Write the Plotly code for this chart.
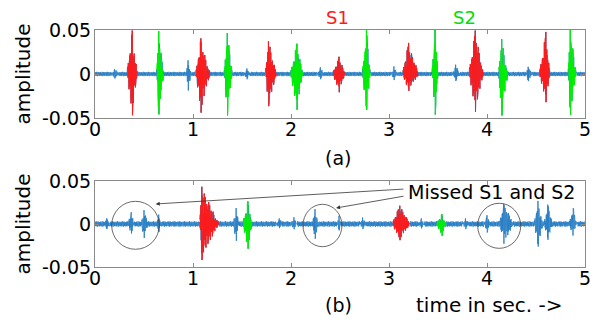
import numpy as np
import plotly.graph_objects as go
from plotly.subplots import make_subplots

# ---------------- data ----------------
# burst events: start / peak / end time (s), positive and negative peak amplitude, kind
TOP_START = [0.17, 0.33, 0.63, 0.93, 1.03, 1.32, 1.52, 1.74, 2.00, 2.27, 2.43, 2.73, 3.02, 3.14, 3.44, 3.65, 3.82, 4.12, 4.40, 4.54, 4.83]
TOP_PEAK  = [0.20, 0.38, 0.65, 0.95, 1.08, 1.35, 1.55, 1.77, 2.06, 2.30, 2.49, 2.77, 3.05, 3.20, 3.47, 3.68, 3.88, 4.15, 4.42, 4.60, 4.85]
TOP_END   = [0.24, 0.43, 0.70, 0.98, 1.17, 1.40, 1.58, 1.85, 2.12, 2.33, 2.55, 2.81, 3.08, 3.30, 3.50, 3.72, 3.96, 4.21, 4.46, 4.64, 4.91]
TOP_POS   = [0.006, 0.050, 0.048, 0.015, 0.040, 0.047, 0.007, 0.038, 0.035, 0.008, 0.020, 0.050, 0.008, 0.035, 0.050, 0.010, 0.050, 0.040, 0.008, 0.048, 0.050]
TOP_NEG   = [0.006, 0.050, 0.048, 0.020, 0.045, 0.050, 0.007, 0.038, 0.043, 0.007, 0.022, 0.043, 0.007, 0.020, 0.050, 0.008, 0.045, 0.050, 0.008, 0.035, 0.048]
TOP_KIND  = ["N", "S1", "S2", "N", "S1", "S2", "N", "S1", "S2", "N", "S1", "S2", "N", "S1", "S2", "N", "S1", "S2", "N", "S1", "S2"]

BOT_START = [0.10, 0.34, 0.47, 0.63, 1.07, 1.41, 1.51, 1.85, 2.00, 2.22, 2.47, 2.70, 3.04, 3.30, 3.49, 3.75, 3.97, 4.13, 4.48, 4.58, 4.84]
BOT_PEAK  = [0.12, 0.37, 0.50, 0.65, 1.09, 1.44, 1.56, 1.88, 2.03, 2.245, 2.49, 2.73, 3.11, 3.33, 3.54, 3.78, 4.00, 4.17, 4.52, 4.62, 4.88]
BOT_END   = [0.15, 0.40, 0.54, 0.67, 1.26, 1.47, 1.60, 1.91, 2.06, 2.28, 2.51, 2.76, 3.21, 3.36, 3.58, 3.81, 4.03, 4.27, 4.57, 4.67, 4.92]
BOT_POS   = [0.006, 0.014, 0.017, 0.010, 0.043, 0.019, 0.027, 0.007, 0.007, 0.017, 0.010, 0.007, 0.022, 0.007, 0.012, 0.006, 0.010, 0.024, 0.026, 0.022, 0.018]
BOT_NEG   = [0.006, 0.013, 0.018, 0.010, 0.042, 0.022, 0.031, 0.006, 0.006, 0.018, 0.009, 0.006, 0.020, 0.006, 0.015, 0.006, 0.010, 0.024, 0.027, 0.019, 0.015]
BOT_KIND  = ["N", "N", "N", "N", "S1", "N", "S2", "N", "N", "N", "N", "N", "S1", "N", "S2", "N", "N", "N", "N", "N", "N"]

# hand-read texture of the trace (relative sizes of successive swings)
JITTER = [1.0, 0.55, 0.85, 0.35, 0.95, 0.7, 0.45, 0.9, 0.6, 0.3, 0.8, 0.5, 0.75, 0.4, 0.65, 0.9, 0.35, 0.7]
NOISE = [0.0020, -0.0015, 0.0030, -0.0025, 0.0010, -0.0030, 0.0025, -0.0010, 0.0035, -0.0020,
         0.0015, -0.0035, 0.0020, -0.0010, 0.0030, -0.0025, 0.0010, -0.0020, 0.0025, -0.0030, 0.0015]

X_TICKS = [0, 1, 2, 3, 4, 5]
Y_TICKS = [-0.05, 0, 0.05]
Y_TICK_TEXT = ["-0.05", "0", "0.05"]

DT = 0.0025
t = np.arange(0, 5 + DT / 2, DT)


def build(starts, peaks, ends, pos, neg, kinds, noise_scale):
    base = np.array([NOISE[i % len(NOISE)] for i in range(len(t))]) * noise_scale
    sig = base.copy()
    colored = {"S1": np.full(len(t), np.nan), "S2": np.full(len(t), np.nan)}
    for s, p, e, ap, an, k in zip(starts, peaks, ends, pos, neg, kinds):
        idx = np.where((t >= s) & (t <= e))[0]
        env = np.interp(t[idx], [s, p, e], [0.15, 1.0, 0.1]) ** 1.2
        jit = np.array([JITTER[i % len(JITTER)] for i in range(len(idx))])
        pk = int(np.argmin(np.abs(t[idx] - p)))
        jit[pk] = 1.0
        if pk + 1 < len(jit):
            jit[pk + 1] = 1.0
        sign = np.array([1 if (i - pk) % 2 == 0 else -1 for i in range(len(idx))])
        burst = env * jit * sign
        burst = np.where(burst > 0, burst * ap, burst * an)
        sig[idx] = burst + base[idx] * 0.3
        if k in colored:
            colored[k][idx] = sig[idx]
    return sig, colored


top_sig, top_col = build(TOP_START, TOP_PEAK, TOP_END, TOP_POS, TOP_NEG, TOP_KIND, 0.7)
bot_sig, bot_col = build(BOT_START, BOT_PEAK, BOT_END, BOT_POS, BOT_NEG, BOT_KIND, 0.9)

BLUE = "#2a7fc4"
RED = "#ff1a1a"
GREEN = "#00f000"
FONT = "DejaVu Sans"

fig = make_subplots(rows=2, cols=1)
for row, sig, col in [(1, top_sig, top_col), (2, bot_sig, bot_col)]:
    fig.add_trace(go.Scatter(x=t, y=sig, mode="lines", line=dict(color=BLUE, width=0.9),
                             hoverinfo="skip", showlegend=False), row=row, col=1)
    fig.add_trace(go.Scatter(x=t, y=col["S1"], mode="lines", line=dict(color=RED, width=0.9),
                             hoverinfo="skip", showlegend=False), row=row, col=1)
    fig.add_trace(go.Scatter(x=t, y=col["S2"], mode="lines", line=dict(color=GREEN, width=0.9),
                             hoverinfo="skip", showlegend=False), row=row, col=1)

# page has an 8px body margin: size the figure so that it fits the 600x324 window
W, H = 592, 316
ml, mr, mt, mb = 87, 15, 22, 57
ph = H - mt - mb
PB = 267  # page y of the paper bottom


def py(y_page):
    return (PB - y_page) / ph


axis_common = dict(showline=True, mirror="ticks", linecolor="#8a8a8a", linewidth=1,
                   ticks="inside", ticklen=4, tickcolor="#8a8a8a", showgrid=False, zeroline=False,
                   automargin=False,
                   tickfont=dict(family=FONT, size=19, color="black"))
fig.update_xaxes(range=[0, 5], tickvals=X_TICKS, ticktext=[str(v) for v in X_TICKS],
                 ticklabelstandoff=-6, **axis_common)
fig.update_yaxes(range=[-0.05, 0.05], tickvals=Y_TICKS, ticktext=Y_TICK_TEXT,
                 ticklabelstandoff=-1,
                 title=dict(text="amplitude", font=dict(family=FONT, size=20, color="black"), standoff=6),
                 **axis_common)
fig.update_layout(
    width=W, height=H,
    margin=dict(l=ml, r=mr, t=mt, b=mb),
    paper_bgcolor="white", plot_bgcolor="white",
    yaxis=dict(domain=[py(118), 1.0]),
    yaxis2=dict(domain=[0.0, py(181)]),
    xaxis=dict(anchor="y"), xaxis2=dict(anchor="y2"),
    font=dict(family=FONT),
)


def label(text, x, y_page, size, color="black"):
    return dict(text=text, x=x, y=py(y_page), xref="x", yref="paper", showarrow=False,
                xanchor="center", yanchor="middle", font=dict(family=FONT, size=size, color=color))


ann = [
    label("S1", 2.47, 18, 18, RED),
    label("S2", 3.77, 18, 18, "#00e000"),
    label("(a)", 2.48, 158, 19),
    label("(b)", 2.48, 305, 19),
    label("time in sec. ->", 4.03, 305, 20),
    dict(text="Missed S1 and S2", x=4.05, y=0.0372, xref="x2", yref="y2", showarrow=False,
         xanchor="center", yanchor="middle", font=dict(family=FONT, size=19, color="black")),
    dict(text="", x=0.62, y=0.0233, xref="x2", yref="y2", ax=3.163, ay=0.0407, axref="x2", ayref="y2",
         showarrow=True, arrowhead=2, arrowsize=1, arrowwidth=0.8, arrowcolor="#333333"),
    dict(text="", x=2.46, y=0.0186, xref="x2", yref="y2", ax=3.163, ay=0.0326, axref="x2", ayref="y2",
         showarrow=True, arrowhead=2, arrowsize=1, arrowwidth=0.8, arrowcolor="#333333"),
]
fig.update_layout(annotations=ann)

circles = [(0.170, 0.656, -0.0294, 0.0264), (2.122, 2.520, -0.0264, 0.0229), (3.905, 4.344, -0.0283, 0.0241)]
for x0, x1, y0, y1 in circles:
    fig.add_shape(type="circle", xref="x2", yref="y2", x0=x0, x1=x1, y0=y0, y1=y1,
                  line=dict(color="#444444", width=0.8))

fig.write_html("out.html")
